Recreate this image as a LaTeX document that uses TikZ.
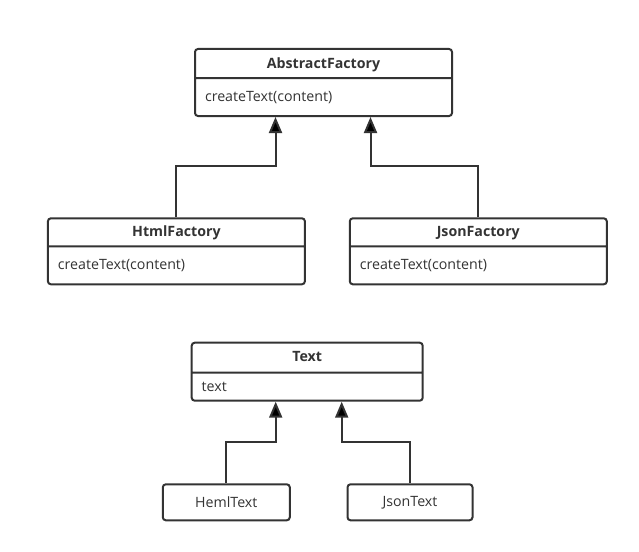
\documentclass[tikz,border=0pt]{standalone}
\usepackage{fontspec}
\setmainfont{Open Sans}
\usetikzlibrary{shapes,arrows.meta,positioning}
\definecolor{umlgray}{HTML}{333333}
% strut of a class part: depth, total height
\newcommand{\partstrut}[2]{\rule[-#1]{0pt}{#2}}

\tikzset{
umlclass/.style={rectangle split, rectangle split parts=2,
  rectangle split part align={center,left}, draw=umlgray, text=umlgray,
  line width=2pt, rounded corners=3pt, inner xsep=10pt, inner ysep=0pt,
  minimum width=257pt, anchor=north, font=\fontsize{14.2}{16}\selectfont},
umlleaf/.style={rectangle, draw=umlgray, text=umlgray, line width=2pt,
  rounded corners=3pt, minimum height=36pt, anchor=north,
  font=\fontsize{14.2}{16}\selectfont},
extends/.style={draw=umlgray, line width=2pt,
  -{Triangle[width=13pt,length=16pt]}}
}

\begin{document}
\begin{tikzpicture}[x=1pt,y=-1pt]
\useasboundingbox (0,0) rectangle (639,551);
\node[umlclass] (AbstractFactory) at (323.5,48)
  {\textbf{AbstractFactory}\partstrut{9pt}{27pt}
   \nodepart{second} createText(content)\partstrut{14pt}{36pt}};
\node[umlclass] (HtmlFactory) at (176.4,217.3)
  {\textbf{HtmlFactory}\partstrut{9pt}{26pt}
   \nodepart{second} createText(content)\partstrut{14pt}{36pt}};
\node[umlclass] (JsonFactory) at (478.3,217.3)
  {\textbf{JsonFactory}\partstrut{9pt}{26pt}
   \nodepart{second} createText(content)\partstrut{14pt}{36pt}};
\draw[extends] (HtmlFactory.north) -- ++(0,-51) -| ([xshift=-48pt]AbstractFactory.south);
\draw[extends] (JsonFactory.north) -- ++(0,-51) -| ([xshift=47pt]AbstractFactory.south);

\node[umlclass, minimum width=231pt] (Text) at (307.2,341.7)
  {\textbf{Text}\partstrut{10pt}{28pt}
   \nodepart{second} text\partstrut{8pt}{26pt}};
\node[umlleaf, minimum width=127pt] (HemlText) at (226.3,483.3) {HemlText};
\node[umlleaf, minimum width=125pt] (JsonText) at (410,483.3) {JsonText};
\draw[extends] (HemlText.north) -- ++(0,-41.6) -| ([xshift=-31.5pt]Text.south);
\draw[extends] (JsonText.north) -- ++(0,-41.6) -| ([xshift=34.5pt]Text.south);
\end{tikzpicture}
\end{document}
